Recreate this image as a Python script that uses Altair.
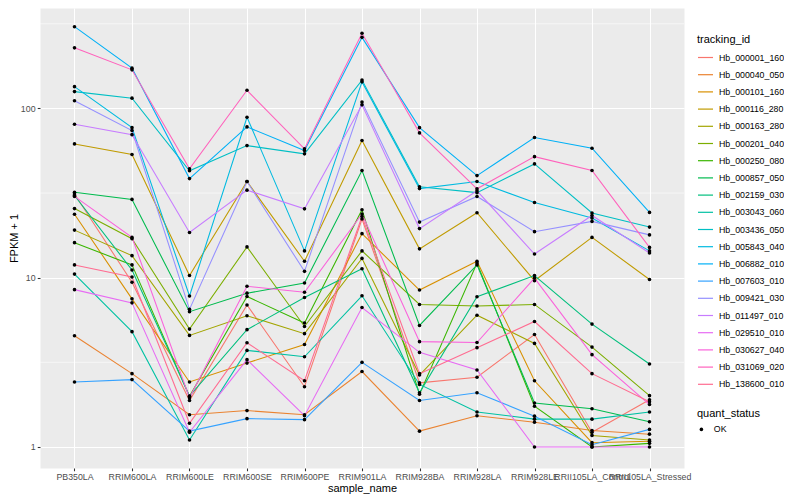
import altair as alt
import pandas as pd

samples = ["PB350LA", "RRIM600LA", "RRIM600LE", "RRIM600SE", "RRIM600PE", "RRIM901LA",
           "RRIM928BA", "RRIM928LA", "RRIM928LE", "RRII105LA_Control", "RRII105LA_Stressed"]

tracking_ids = ["Hb_000001_160", "Hb_000040_050", "Hb_000101_160", "Hb_000116_280", "Hb_000163_280",
                "Hb_000201_040", "Hb_000250_080", "Hb_000857_050", "Hb_002159_030", "Hb_003043_060",
                "Hb_003436_050", "Hb_005843_040", "Hb_006882_010", "Hb_007603_010", "Hb_009421_030",
                "Hb_011497_010", "Hb_029510_010", "Hb_030627_040", "Hb_031069_020", "Hb_138600_010"]

palette = ["#F8766D", "#EA8331", "#D89000", "#C09B00", "#A3A500", "#7CAE00", "#39B600", "#00BB4E",
           "#00BF7D", "#00C1A3", "#00BFC4", "#00BAE0", "#00B0F6", "#35A2FF", "#9590FF", "#C77CFF",
           "#E76BF3", "#FA62DB", "#FF62BC", "#FF6C91"]

# FPKM + 1 per sample (order of `samples`)
hb_000001_160 = [31.2, 9.4, 1.88, 6.9, 2.27, 22.2, 2.39, 2.58, 4.62, 1.22, 1.90]
hb_000040_050 = [4.54, 2.71, 1.55, 1.64, 1.55, 2.79, 1.24, 1.53, 1.40, 1.25, 1.19]
hb_000101_160 = [23.7, 7.5, 2.42, 3.13, 4.03, 18.2, 8.45, 12.5, 2.46, 1.06, 1.08]
hb_000116_280 = [61.7, 53.4, 10.3, 37.0, 12.5, 64.6, 14.8, 24.2, 9.6, 17.3, 9.76]
hb_000163_280 = [19.1, 13.5, 4.56, 5.96, 4.67, 13.0, 2.66, 6.0, 4.09, 1.17, 1.10]
hb_000201_040 = [25.6, 17.0, 4.97, 15.2, 5.15, 14.4, 6.95, 6.8, 6.95, 3.89, 2.01]
hb_000250_080 = [16.1, 11.9, 1.99, 7.74, 5.4, 25.2, 2.05, 12.2, 1.74, 1.0, 1.05]
hb_000857_050 = [32.0, 29.0, 6.3, 8.1, 9.3, 43.0, 5.22, 11.9, 1.82, 1.68, 1.41]
hb_002159_030 = [30.6, 11.1, 2.0, 4.93, 7.64, 11.3, 2.09, 7.71, 10.3, 5.32, 3.09]
hb_003043_060 = [10.5, 4.8, 1.10, 3.72, 3.41, 7.82, 2.34, 1.61, 1.46, 1.46, 1.61]
hb_003436_050 = [125.7, 115.0, 42.8, 60.3, 53.9, 147.0, 34.4, 31.8, 47.0, 24.1, 19.9]
hb_005843_040 = [134.5, 77.0, 7.8, 88.7, 14.4, 143.5, 33.6, 37.0, 27.8, 22.5, 14.4]
hb_006882_010 = [304.0, 173.0, 38.5, 77.8, 56.4, 263.0, 77.0, 40.1, 67.3, 58.2, 24.3]
hb_007603_010 = [2.42, 2.50, 1.24, 1.47, 1.45, 3.16, 1.88, 2.09, 1.52, 1.03, 1.27]
hb_009421_030 = [111.0, 74.0, 6.5, 37.0, 10.9, 109.0, 21.3, 30.2, 18.7, 21.5, 17.9]
hb_011497_010 = [80.7, 70.0, 18.5, 32.9, 25.5, 105.0, 19.5, 32.6, 13.8, 23.3, 14.0]
hb_029510_010 = [8.5, 7.1, 1.22, 3.28, 1.53, 6.67, 3.62, 2.85, 1.0, 1.0, 1.0]
hb_030627_040 = [30.2, 17.3, 1.95, 8.9, 8.2, 23.8, 4.19, 4.14, 9.95, 3.51, 1.78]
hb_031069_020 = [228.0, 169.0, 44.0, 128.0, 57.7, 278.0, 71.7, 33.5, 51.9, 43.0, 15.1]
hb_138600_010 = [11.9, 10.1, 1.38, 4.13, 2.46, 23.0, 2.71, 3.86, 5.51, 2.71, 1.85]

series = [hb_000001_160, hb_000040_050, hb_000101_160, hb_000116_280, hb_000163_280,
          hb_000201_040, hb_000250_080, hb_000857_050, hb_002159_030, hb_003043_060,
          hb_003436_050, hb_005843_040, hb_006882_010, hb_007603_010, hb_009421_030,
          hb_011497_010, hb_029510_010, hb_030627_040, hb_031069_020, hb_138600_010]

y_ticks = [1, 10, 100]
y_minor = [3.1623, 31.623, 316.23]

rows = []
for tid, vals in zip(tracking_ids, series):
    for i, (s, v) in enumerate(zip(samples, vals)):
        rows.append({"tracking_id": tid, "sample_name": s, "idx": i, "fpkm": v, "quant_status": "OK"})
df = pd.DataFrame(rows)

FONT = "Liberation Sans"

x_enc = alt.X("sample_name:N", sort=samples,
              scale=alt.Scale(type="point", padding=0.6),
              axis=alt.Axis(title="sample_name", labelAngle=0, labelOverlap=False, labelLimit=300,
                            titlePadding=1))
y_axis = alt.Axis(title="FPKM + 1", values=y_ticks, format="d", titlePadding=1)
y_scale = alt.Scale(type="log", domain=[0.751, 392])

minor = alt.Chart(pd.DataFrame({"fpkm": y_minor})).mark_rule(color="white", strokeWidth=0.55).encode(
    y=alt.Y("fpkm:Q", scale=y_scale, axis=y_axis)
)

lines = alt.Chart(df).mark_line(strokeWidth=1.07).encode(
    x=x_enc,
    y=alt.Y("fpkm:Q", scale=y_scale, axis=y_axis),
    order=alt.Order("idx:Q"),
    color=alt.Color("tracking_id:N",
                    scale=alt.Scale(domain=tracking_ids, range=palette),
                    legend=alt.Legend(title="tracking_id", orient="none", legendX=657, legendY=26,
                                      symbolType="stroke", symbolSize=225, symbolStrokeWidth=1.2,
                                      rowPadding=3.2, labelFontSize=8.8, titleFontSize=11,
                                      titleFontWeight="normal", labelFont=FONT, titleFont=FONT,
                                      labelColor="black", titleColor="black", labelOffset=5,
                                      titlePadding=4, symbolLimit=50)),
)

points = alt.Chart(df).mark_point(filled=True, color="black", opacity=1, size=13).encode(
    x=x_enc,
    y=alt.Y("fpkm:Q", scale=y_scale, axis=y_axis),
    shape=alt.Shape("quant_status:N", scale=alt.Scale(domain=["OK"], range=["circle"]),
                    legend=alt.Legend(title="quant_status", orient="none", legendX=657, legendY=400,
                                      symbolSize=13, symbolFillColor="black", symbolStrokeColor="black",
                                      labelFontSize=8.8, titleFontSize=11, titleFontWeight="normal",
                                      labelFont=FONT, titleFont=FONT, labelColor="black",
                                      titleColor="black", labelOffset=8, titlePadding=6)),
)

chart = alt.layer(minor, lines, points).properties(
    width=644, height=460,
    padding={"left": 32, "top": 0, "right": 100, "bottom": 27},
    autosize=alt.AutoSizeParams(type="none"),
).configure_view(
    fill="#EBEBEB", stroke="transparent"
).configure_axis(
    grid=True, gridColor="white", gridWidth=1.07, domain=False,
    tickColor="#333333", tickSize=2.75, tickWidth=1.07,
    labelColor="#4D4D4D", labelFontSize=8.8, labelFont=FONT, labelPadding=2.2,
    titleFont=FONT, titleFontSize=11, titleFontWeight="normal", titleColor="black",
)

chart.save("out.html", embed_options={"renderer": "svg", "actions": False})
